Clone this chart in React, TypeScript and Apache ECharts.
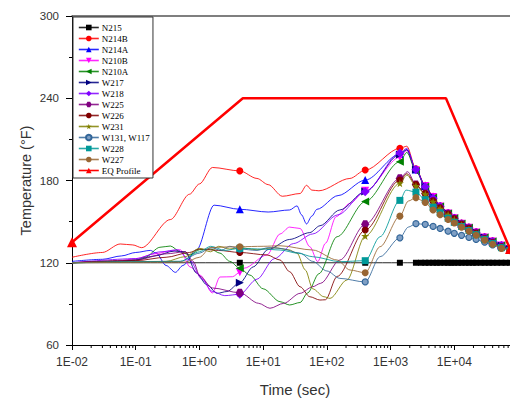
import React, { useEffect, useRef } from "react";
import * as echarts from "echarts";

// ---------- data: [time (s), temperature (°F)] ----------
const N215 = [
  [0.01, 120], [4.3, 120], [400, 120], [1400, 120], [2500, 120], [3000, 120], [3500, 120], [4000, 120],
  [4650, 120], [5300, 120], [6000, 120], [7000, 120], [8000, 120], [9000, 120], [10000, 120], [11500, 120],
  [13000, 120], [15000, 120], [17000, 120], [19500, 120], [22000, 120], [26000, 120], [30000, 120],
  [35000, 120], [40000, 120], [47000, 120], [55000, 120], [64000, 120], [75000, 120],
];
const N214B = [
  [0.01, 124], [0.03, 127.5], [0.057, 133.7], [0.09, 133], [0.124, 131], [0.35, 151.5], [0.7, 170],
  [1.0, 177.5], [1.6, 189.5], [4.3, 187], [8, 181.5], [12, 177], [20, 168.5], [38, 170.5], [48, 176.5],
  [58, 173], [75, 172.5], [230, 181.5], [400, 187.6], [1400, 203.5], [1800, 205], [2500, 188.5],
  [3500, 176.5], [4650, 168.5], [6000, 161.5], [8000, 156.5], [10000, 153], [13000, 149], [17000, 146],
  [22000, 142.5], [30000, 139], [40000, 136], [55000, 133], [75000, 130],
];
const N214A = [
  [0.01, 121], [0.03, 122.5], [0.06, 125], [0.1, 127.5], [0.17, 129], [0.21, 127], [0.3, 118],
  [0.42, 113], [0.55, 118], [0.9, 129.3], [1.7, 162], [4.3, 159], [12, 157], [26, 158.5], [34, 161.5],
  [40, 155], [48, 148.3], [58, 154], [70, 159], [150, 169], [400, 180.3], [1400, 199.3], [1800, 202.5],
  [2500, 188], [3500, 176], [4650, 168], [6000, 161], [8000, 156], [10000, 152.5], [13000, 148.5],
  [17000, 145.5], [22000, 142], [30000, 138.5], [40000, 135.5], [55000, 132.5], [75000, 130],
];
const N210B = [
  [0.01, 120], [0.05, 121], [0.1, 123], [0.2, 126.5], [0.35, 128.5], [0.5, 129.5], [0.71, 117],
  [1.02, 111], [1.6, 98], [2.1, 109.6], [3.3, 109.8], [4.3, 113], [5, 116], [11.5, 125.7], [18.4, 141],
  [26, 146], [38, 145], [54, 131.7], [72, 120.8], [95, 134.2], [140, 153.6], [230, 163.4], [400, 172.5],
  [1400, 197], [1800, 202], [2500, 187.5], [3500, 176], [4650, 168], [6000, 161], [8000, 156],
  [10000, 152.5], [13000, 148.5], [17000, 145.5], [22000, 142], [30000, 138.5], [40000, 135.5],
  [55000, 132.5], [75000, 130],
];
const N210A = [
  [0.01, 120], [0.06, 120.5], [0.1, 122], [0.14, 124], [0.24, 131.3], [0.35, 132.2], [0.5, 128],
  [0.71, 125.6], [1.0, 129.5], [1.5, 130], [2.1, 127], [3, 121], [4.3, 116], [6.2, 111], [10, 101],
  [18.4, 91.6], [26, 89.2], [38, 91], [50, 98], [75, 112], [145, 139], [400, 164.6], [1400, 193.7],
  [1800, 200.5], [2500, 187], [3500, 175.5], [4650, 167.5], [6000, 161], [8000, 156], [10000, 152.5],
  [13000, 148.5], [17000, 145.5], [22000, 142], [30000, 138.5], [40000, 135.5], [55000, 132.5], [75000, 130],
];
const W217 = [
  [0.01, 120], [0.05, 121], [0.1, 122], [0.2, 125], [0.4, 128.5], [0.6, 128], [0.9, 112.5], [1.3, 104],
  [1.9, 97.7], [2.7, 99], [4.3, 105.4], [7, 117], [12, 129.7], [26, 137], [54, 142], [78, 147],
  [160, 158.5], [400, 172], [1400, 199], [1800, 202.5], [2500, 188], [3500, 176], [4650, 168],
  [6000, 161], [8000, 156], [10000, 152.5], [13000, 148.5], [17000, 145.5], [22000, 142], [30000, 138.5],
  [40000, 135.5], [55000, 132.5], [75000, 130],
];
const W218 = [
  [0.01, 120], [0.1, 123], [0.25, 128], [0.45, 129.5], [0.7, 122], [1.1, 108], [1.6, 99], [2.5, 96],
  [4.3, 97], [8, 108], [15, 123], [30, 134], [60, 141], [150, 155], [400, 171.8], [1400, 200],
  [1800, 203.5], [2500, 188], [3500, 175.5], [4650, 167], [6000, 161], [8000, 156], [10000, 152.5],
  [13000, 148.5], [17000, 145.5], [22000, 142], [30000, 138.5], [40000, 135.5], [55000, 132.5], [75000, 129.5],
];
const W225 = [
  [0.01, 120], [0.1, 122], [0.3, 126.5], [0.6, 128], [0.8, 121], [1.02, 110], [1.6, 101.6], [4.3, 98.1],
  [8.5, 90.4], [12.8, 86.8], [21, 90.4], [38, 97.7], [60, 102.5], [80, 105], [160, 122], [400, 148],
  [1400, 181.6], [1850, 186.4], [2500, 177], [3500, 170.5], [4650, 165], [6000, 160], [8000, 155.5],
  [10000, 152], [13000, 148], [17000, 145], [22000, 141.5], [30000, 137.5], [40000, 134.5], [55000, 131.5],
  [75000, 129.5],
];
const W226 = [
  [0.01, 120], [0.1, 121.5], [0.3, 124], [0.7, 127.5], [1.0, 130], [2, 129], [4.3, 127.5], [11.5, 125.7],
  [18.4, 122], [26, 113.5], [38, 102.5], [54, 95.2], [78, 92.8], [95, 93], [145, 110], [400, 143.9],
  [1400, 180.3], [1800, 185], [2500, 177], [3500, 170.5], [4650, 165], [6000, 160], [8000, 155.5],
  [10000, 152], [13000, 148], [17000, 145], [22000, 141.5], [30000, 137.5], [40000, 134.5], [55000, 131.5],
  [75000, 129.5],
];
const W231 = [
  [0.01, 120], [0.3, 121], [0.6, 124.5], [1.0, 130.5], [1.5, 128], [2, 132], [3, 130], [4.3, 131],
  [8, 129.5], [15, 131], [25, 129.5], [34, 127], [46, 114.7], [60, 101], [90, 95.2], [112, 94],
  [206, 107.4], [400, 139.5], [1400, 178], [1800, 184], [2500, 176], [3500, 170], [4650, 164.5],
  [6000, 159.5], [8000, 155], [10000, 151.5], [13000, 147.5], [17000, 144.5], [22000, 141], [30000, 137],
  [40000, 134], [55000, 131], [75000, 129.5],
];
const W131_W117 = [
  [0.01, 120], [0.5, 121], [1.0, 127], [1.5, 131], [2.2, 129], [3, 132], [4.3, 130], [8, 129], [12, 131],
  [18.4, 130.5], [38, 127], [60, 121], [100, 114], [160, 108.6], [400, 106], [684, 124.4], [1400, 138.2],
  [1900, 146], [2500, 148.5], [3500, 148], [4650, 146.5], [6000, 145], [8000, 143], [10000, 141.5],
  [13000, 140], [17000, 138.5], [22000, 137], [30000, 135], [40000, 133], [55000, 131], [75000, 129],
];
const W228 = [
  [0.01, 120], [0.5, 121], [1.0, 128], [1.5, 132], [2.5, 129], [4.3, 130.5], [10, 130], [18.4, 129.3],
  [35, 127], [60, 124.4], [160, 120.8], [400, 121.5], [684, 139], [1400, 165.5], [1750, 173], [2500, 171.5],
  [3500, 166], [4650, 160.5], [6000, 156.5], [8000, 152.5], [10000, 149.5], [13000, 146.5], [17000, 143.5],
  [22000, 140.5], [30000, 137], [40000, 134], [55000, 131], [75000, 129],
];
const W227 = [
  [0.01, 120], [0.6, 120.5], [1.0, 124], [1.5, 131], [2.5, 131.5], [4.3, 131.7], [10, 132], [18.4, 132.4],
  [60, 129.3], [145, 122], [231, 114.7], [400, 112.7], [684, 131.7], [1400, 154], [1900, 165], [2500, 167.5],
  [3500, 164], [4650, 158.5], [6000, 155], [8000, 151.5], [10000, 149], [13000, 146], [17000, 143],
  [22000, 140], [30000, 136.5], [40000, 133.5], [55000, 130.5], [75000, 128.8],
];
const EQ_PROFILE = [[0.01, 135], [4.8, 240], [7400, 240], [75000, 130]];

// times at which the plotted curves carry a marker
const MARKER_TIMES = [
  4.3, 400, 1400, 2500, 3000, 3500, 4000, 4650, 5300, 6000, 7000, 8000, 9000, 10000, 11500, 13000,
  15000, 17000, 19500, 22000, 26000, 30000, 35000, 40000, 47000, 55000, 64000, 75000,
];
const EQ_MARKER_TIMES = [0.01, 75000];

const X_MIN = 0.01;
const X_MAX = 100000;
const Y_MIN = 60;
const Y_MAX = 300;
const Y_STEP = 60;

const STAR = "path://M50 0 L61 35 L98 35 L68 57 L79 91 L50 70 L21 91 L32 57 L2 35 L39 35 Z";
const HEX = "path://M25 0 L75 0 L100 43 L75 86 L25 86 L0 43 Z";

const SERIES_DEFS: any[] = [
  { name: "N215", data: N215, color: "#000000", symbol: "rect", size: 6 },
  { name: "N214B", data: N214B, color: "#ff0000", symbol: "circle", size: 7 },
  { name: "N214A", data: N214A, color: "#0000ff", symbol: "triangle", size: 8 },
  { name: "N210B", data: N210B, color: "#ff00ff", symbol: "triangle", size: 8, rotate: 180 },
  { name: "N210A", data: N210A, color: "#008000", symbol: "triangle", size: 8, rotate: 90 },
  { name: "W217", data: W217, color: "#000080", symbol: "triangle", size: 8, rotate: -90 },
  { name: "W218", data: W218, color: "#8000ff", symbol: "diamond", size: 9 },
  { name: "W225", data: W225, color: "#800080", symbol: HEX, size: 8 },
  { name: "W226", data: W226, color: "#800000", symbol: "circle", size: 7 },
  { name: "W231", data: W231, color: "#808000", symbol: STAR, size: 8 },
  { name: "W131, W117", data: W131_W117, color: "#336699", symbol: "circle", size: 6, fill: "#7f9fc4" },
  { name: "W228", data: W228, color: "#009999", symbol: "rect", size: 7 },
  { name: "W227", data: W227, color: "#996633", symbol: "circle", size: 7 },
];

function expLabel(v: number) {
  const e = Math.round(Math.log10(v));
  if (e > 4) return "";
  const s = e < 0 ? "-" : "+";
  return "1E" + s + String(Math.abs(e)).padStart(2, "0");
}

export default function App() {
  const ref = useRef<HTMLDivElement>(null);
  useEffect(() => {
    if (!ref.current) return;
    const chart = echarts.init(ref.current, null, { renderer: "svg" });

    const minorTicks: number[][] = [];
    for (let e = -2; e < 5; e++) {
      for (let k = 2; k <= 9; k++) minorTicks.push([k * Math.pow(10, e), Y_MIN]);
    }

    const series: any[] = SERIES_DEFS.map((d, i) => ({
      type: "line",
      name: d.name,
      data: d.data.map((p: number[]) =>
        MARKER_TIMES.indexOf(p[0]) >= 0 ? { value: p } : { value: p, symbol: "none" }
      ),
      symbol: d.symbol,
      symbolSize: d.size,
      symbolRotate: d.rotate || 0,
      showSymbol: true,
      smooth: 0.3,
      smoothMonotone: "x",
      lineStyle: { color: d.color, width: 1, opacity: 0.85 },
      itemStyle: { color: d.fill || d.color, borderColor: d.color, borderWidth: d.fill ? 1.2 : 0 },
      z: 2 + i,
      animation: false,
    }));
    series.push({
      type: "line",
      name: "EQ Profile",
      data: EQ_PROFILE.map((p) =>
        EQ_MARKER_TIMES.indexOf(p[0]) >= 0 ? { value: p } : { value: p, symbol: "none" }
      ),
      symbol: "triangle",
      symbolSize: 10,
      showSymbol: true,
      lineStyle: { color: "#ff0000", width: 2.5 },
      itemStyle: { color: "#ff0000" },
      z: 20,
      animation: false,
    });
    series.push({
      type: "custom",
      name: "minorTicks",
      coordinateSystem: "cartesian2d",
      xAxisIndex: 0,
      yAxisIndex: 0,
      data: minorTicks,
      clip: false,
      silent: true,
      z: 30,
      renderItem: (params: any, api: any) => {
        const p = api.coord([api.value(0), api.value(1)]);
        return {
          type: "line",
          shape: { x1: p[0], y1: p[1], x2: p[0], y2: p[1] + 3 },
          style: { stroke: "#000", lineWidth: 1 },
        };
      },
    });

    const option: any = {
      animation: false,
      backgroundColor: "#fff",
      grid: { left: 72, right: -8, top: 16, bottom: 53, containLabel: false, outerBoundsMode: "none" },
      legend: {
        orient: "vertical",
        left: 73,
        top: 17,
        itemWidth: 20,
        itemHeight: 7,
        itemGap: 2,
        padding: [6, 3, 3, 5],
        backgroundColor: "#fff",
        borderColor: "#333",
        borderWidth: 1,
        selectedMode: false,
        z: 50,
        lineStyle: { width: 1.6 },
        textStyle: { fontFamily: "Liberation Serif", fontSize: 9, color: "#000", padding: [0, 0, 0, -2] },
        data: [...SERIES_DEFS.map((d) => d.name), "EQ Profile"],
      },
      xAxis: [
        {
          type: "log",
          logBase: 10,
          min: X_MIN,
          max: X_MAX,
          splitNumber: 7,
          name: "Time (sec)",
          nameLocation: "middle",
          nameGap: 37,
          nameMoveOverlap: false,
          nameTextStyle: { fontFamily: "Liberation Sans", fontSize: 15, color: "#333" },
          axisLine: { show: true, onZero: false, lineStyle: { color: "#000", width: 1 } },
          axisTick: { show: true, inside: false, length: 5, lineStyle: { color: "#000" } },
          axisLabel: {
            formatter: expLabel,
            fontFamily: "Liberation Sans",
            fontSize: 12,
            color: "#333",
            margin: 11,
            showMaxLabel: false,
          },
          splitLine: { show: false },
        },
        {
          type: "value",
          position: "top",
          min: 0,
          max: 1,
          axisLine: { show: true, lineStyle: { color: "#555", width: 1.5 } },
          axisTick: { show: false },
          axisLabel: { show: false },
          splitLine: { show: false },
        },
      ],
      yAxis: {
        type: "value",
        min: Y_MIN,
        max: Y_MAX,
        interval: Y_STEP,
        name: "Temperature (°F)",
        nameLocation: "middle",
        nameRotate: 90,
        nameGap: 39,
        nameMoveOverlap: false,
        nameTextStyle: { fontFamily: "Liberation Sans", fontSize: 14.5, color: "#333" },
        axisLine: { show: true, lineStyle: { color: "#000", width: 1 } },
        axisTick: { show: true, inside: false, length: 6, lineStyle: { color: "#000" } },
        minorTick: { show: true, splitNumber: 2, length: 3, lineStyle: { color: "#000" } },
        axisLabel: { fontFamily: "Liberation Sans", fontSize: 11.5, color: "#333", margin: 13 },
        splitLine: { show: false },
        minorSplitLine: { show: false },
      },
      series,
    };
    chart.setOption(option);
    return () => chart.dispose();
  }, []);
  return (
    <div
      ref={ref}
      style={{ position: "fixed", left: 0, top: 0, width: 510, height: 398, background: "#fff" }}
    />
  );
}
